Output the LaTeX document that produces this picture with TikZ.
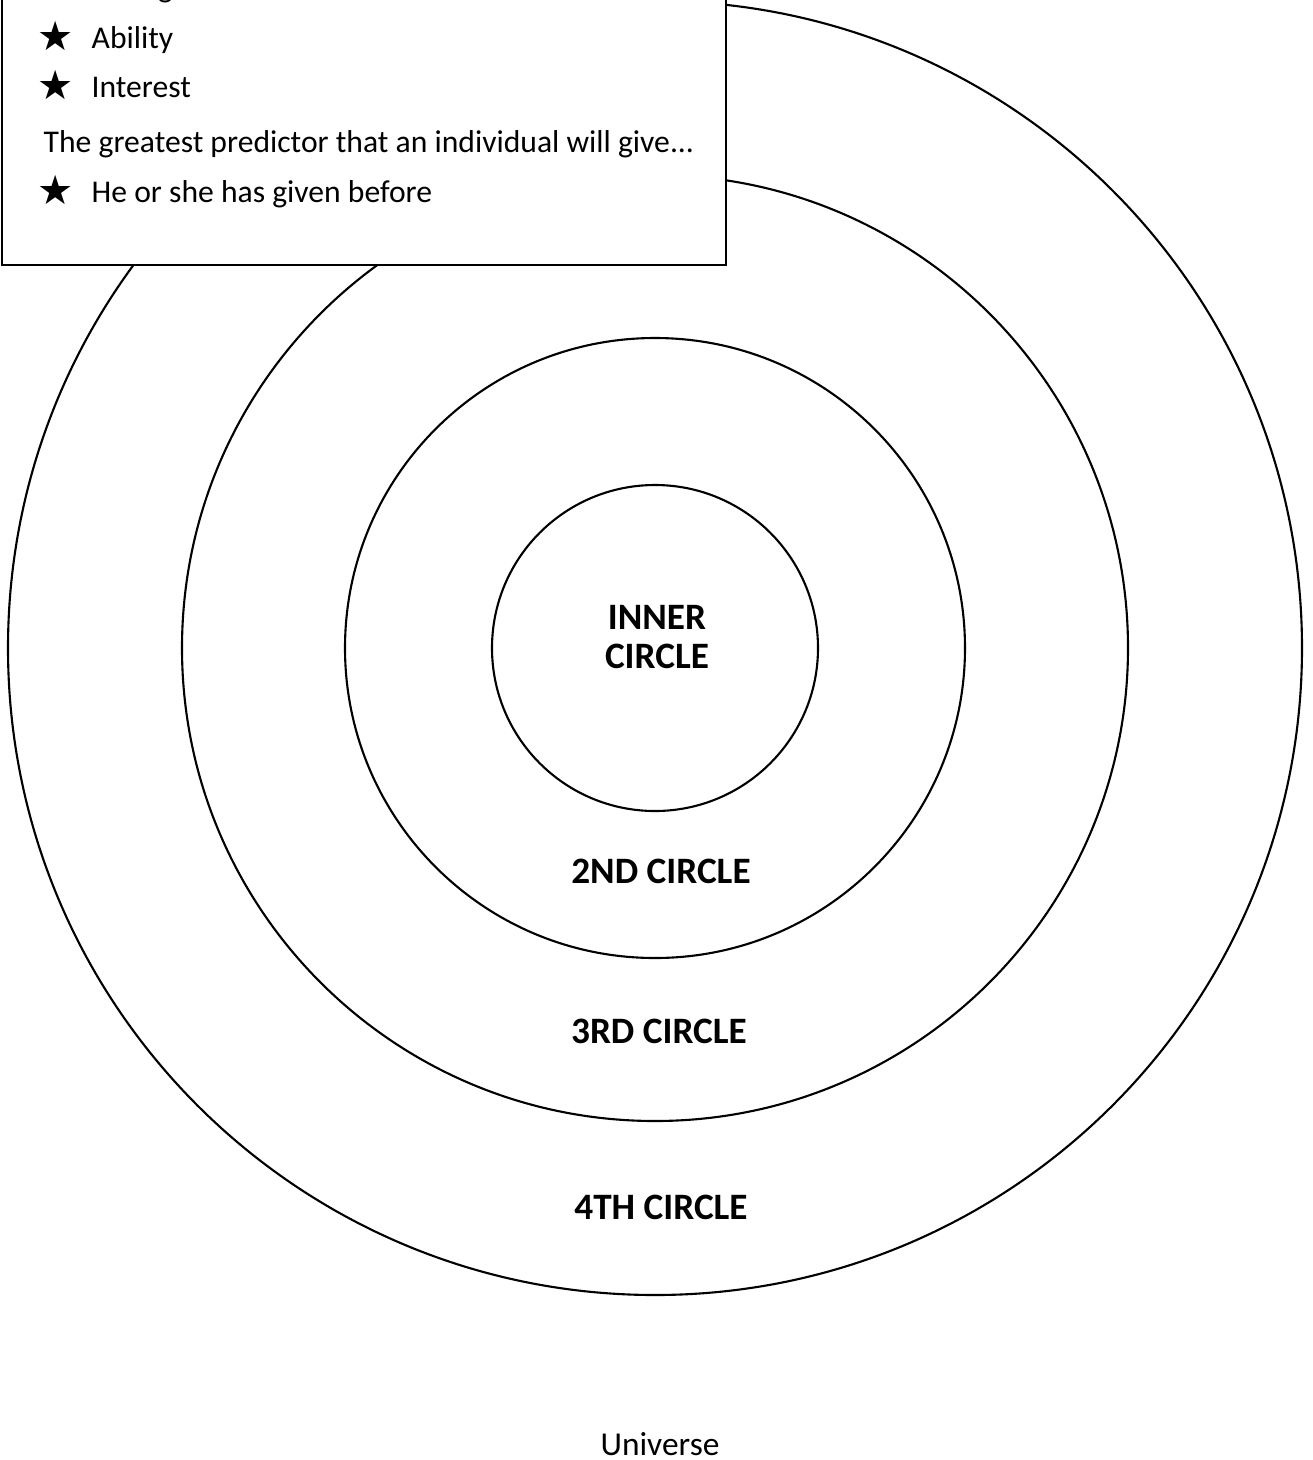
\documentclass[tikz,border=0pt]{standalone}
\usepackage{fontspec}
\setmainfont{Carlito}
\newfontfamily\symfont{DejaVu Sans}
\usetikzlibrary{positioning}
\tikzset{
  ring/.style={draw, line width=0.6pt},
  ringlabel/.style={font=\bfseries\fontsize{10.6}{11.2}\selectfont, align=center, inner sep=0pt},
  boxtext/.style={font=\fontsize{9}{11}\selectfont, anchor=base west, inner sep=0pt},
  starmark/.style={font=\symfont\fontsize{11.5}{11.5}\selectfont, anchor=base, yshift=-0.2mm, inner sep=0pt},
}

\begin{document}
\begin{tikzpicture}
  \useasboundingbox (0,0) rectangle (13.12,-14.60);
  % Rings
  \coordinate (c) at (6.55,-6.48);
  \draw[ring] (c) circle (6.47);
  \draw[ring] (c) circle (4.73);
  \draw[ring] (c) circle (3.10);
  \draw[ring] (c) circle (1.63);
  % Ring labels
  \node[ringlabel] (inner) at (6.57,-6.37) {INNER\\CIRCLE};
  \node[ringlabel] (second) at (6.61,-8.71) {2ND CIRCLE};
  \node[ringlabel] (third) at (6.59,-10.31) {3RD CIRCLE};
  \node[ringlabel] (fourth) at (6.61,-12.07) {4TH CIRCLE};
  \node[boxtext, font=\fontsize{9.5}{11}\selectfont, anchor=center] (universe) at (6.60,-14.44) {Universe};
  % Box
  \draw[fill=white, line width=0.6pt] (0.02,0.6) rectangle (7.26,-2.65);
  \foreach \y/\t [count=\i] in {0.03/Linkage, -0.48/Ability, -0.97/Interest, -2.02/He or she has given before}{
    \node[starmark] (star\i) at (0.56,\y) {★};
    \node[boxtext] (item\i) at (0.91,\y) {\t};
  }
  \node[boxtext] (predictor) at (0.43,-1.52) {The greatest predictor that an individual will give...};
\end{tikzpicture}
\end{document}
